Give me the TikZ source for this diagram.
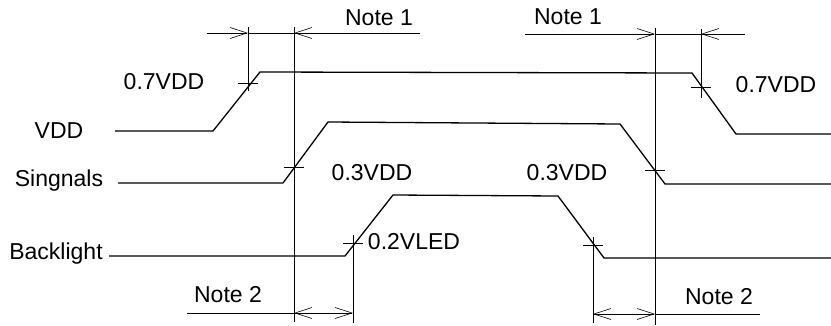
\documentclass[tikz,border=0pt]{standalone}
\usepackage{fontspec}
\setmainfont{Liberation Sans}
\usetikzlibrary{arrows.meta}
\begin{document}
\begin{tikzpicture}[x=1pt,y=-1pt,
  trace/.style={line width=1.3pt,line join=miter},
  guide/.style={line width=0.6pt},
  dim/.style={line width=0.6pt},
  barb/.tip={Straight Barb[length=17pt,width=11pt,line width=0.6pt]},
  lbl/.style={inner sep=0pt,font=\fontsize{23}{25}\selectfont},
  pics/tickmark/.style={code={\draw[line width=0.6pt] (-10,0)--(10,0) (0,-8)--(0,8);}}]
\useasboundingbox (0,0) rectangle (831,325);
% signal labels
\node[lbl] (lvdd) at (59,131) {VDD};
\node[lbl] (lsig) at (59,181) {Singnals};
\node[lbl] (lbl) at (56,254) {Backlight};
% traces
\coordinate (v0) at (115,131);
\coordinate (s0) at (118,183);
\coordinate (b0) at (109,256);
\draw[trace] (v0) -- (213,131) -- (260,72) -- (692,73) -- (736,134) -- (831,134);
\draw[trace] (s0) -- (283,183) -- (328,122) -- (620,124) -- (665,184) -- (831,184);
\draw[trace] (b0) -- (345,256) -- (393,195) -- (558,196) -- (604,258) -- (831,258);
% guide lines
\coordinate (g1t) at (248,27); \coordinate (g1b) at (248,90);
\coordinate (g2t) at (294,27); \coordinate (g2b) at (294,322);
\coordinate (g3t) at (655,28); \coordinate (g3b) at (655,325);
\coordinate (g4t) at (701,29); \coordinate (g4b) at (701,98);
\coordinate (g5t) at (353,236); \coordinate (g5b) at (353,323);
\coordinate (g6t) at (593,240); \coordinate (g6b) at (593,323);
\draw[guide] (g1t) -- (g1b);
\draw[guide] (g2t) -- (g2b);
\draw[guide] (g3t) -- (g3b);
\draw[guide] (g4t) -- (g4b);
\draw[guide] (g5t) -- (g5b);
\draw[guide] (g6t) -- (g6b);
% ticks
\pic at (248,83) {tickmark};
\pic at (294,167) {tickmark};
\pic at (655,170) {tickmark};
\pic at (701,87) {tickmark};
\pic at (353,243) {tickmark};
\pic at (593,245) {tickmark};
% Note 1 dimensions
\coordinate (n1a) at (207,33); \coordinate (n1b) at (248,33);
\coordinate (n1c) at (294,33); \coordinate (n1d) at (420,33);
\draw[dim,-barb] (n1a) -- (n1b);
\draw[dim] (n1b) -- (n1c);
\draw[dim,barb-] (n1c) -- (n1d);
\coordinate (n1e) at (525,34); \coordinate (n1f) at (655,34);
\coordinate (n1g) at (701,34); \coordinate (n1h) at (745,34);
\draw[dim,-barb] (n1e) -- (n1f);
\draw[dim] (n1f) -- (n1g);
\draw[dim,barb-] (n1g) -- (n1h);
% Note 2 dimensions
\coordinate (n2a) at (187,313); \coordinate (n2b) at (294,313); \coordinate (n2c) at (353,313);
\draw[dim] (n2a) -- (n2b);
\draw[dim,barb-barb] (n2b) -- (n2c);
\coordinate (n2d) at (593,314); \coordinate (n2e) at (655,314); \coordinate (n2f) at (760,314);
\draw[dim,barb-barb] (n2d) -- (n2e);
\draw[dim] (n2e) -- (n2f);
% level labels
\node[lbl] (a1) at (164,82) {0.7VDD};
\node[lbl] (a2) at (776,85) {0.7VDD};
\node[lbl] (a3) at (372,173) {0.3VDD};
\node[lbl] (a4) at (567,173) {0.3VDD};
\node[lbl] (a5) at (414,242) {0.2VLED};
\node[lbl] (t1) at (379,18) {Note 1};
\node[lbl] (t2) at (568,17) {Note 1};
\node[lbl] (t3) at (228,295) {Note 2};
\node[lbl] (t4) at (719,297) {Note 2};
\end{tikzpicture}
\end{document}
